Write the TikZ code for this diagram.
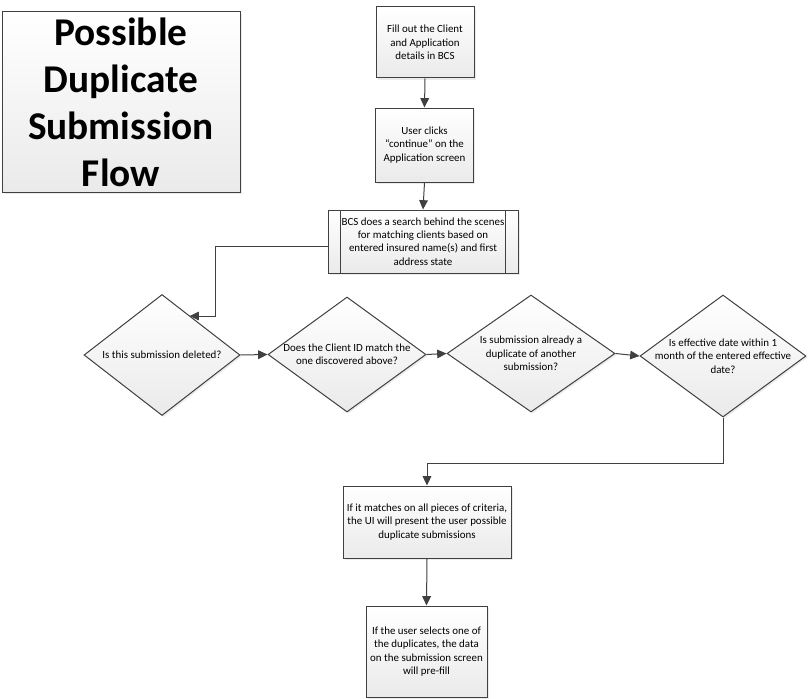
\documentclass[tikz,border=0pt]{standalone}
\usepackage{fontspec}
\setmainfont{Carlito}
\usepackage{tikz}
\usetikzlibrary{shapes.geometric,arrows.meta,shadows}
\definecolor{linegray}{RGB}{64,64,64}
\definecolor{fillgray}{RGB}{234,234,234}
\definecolor{shadegray}{RGB}{215,215,215}

\begin{document}
\begin{tikzpicture}[x=0.75pt, y=-0.75pt,
    stepbox/.style={draw=linegray, line width=0.75pt, top color=white, bottom color=fillgray,
        drop shadow={shadow xshift=1.2pt, shadow yshift=-1.2pt, fill=shadegray, opacity=0.5},
        align=center, inner sep=2pt, font=\fontsize{8.2}{10}\selectfont},
    decision/.style={diamond, draw=linegray, line width=0.75pt, top color=white, bottom color=fillgray,
        drop shadow={shadow xshift=1.2pt, shadow yshift=-1.2pt, fill=shadegray, opacity=0.5},
        inner sep=0pt},
    qtext/.style={align=center, font=\fontsize{8.2}{10}\selectfont},
    flow/.style={draw=linegray, line width=0.75pt, -{Triangle[length=7pt, width=6.5pt]}}]
    \useasboundingbox (0,0) rectangle (810,699);

    % Titre
    \node[stepbox, minimum width=178.5pt, minimum height=135pt,
        font=\fontsize{29.5}{35.2}\selectfont\bfseries] (title) at (121,102)
        {Possible\\Duplicate\\Submission\\Flow};

    % Saisie et recherche
    \node[stepbox, minimum width=73.5pt, minimum height=53.25pt] (fill) at (425,42.5)
        {Fill out the Client\\and Application\\details in BCS};
    \node[stepbox, minimum width=73.5pt, minimum height=55.5pt] (click) at (424.5,145)
        {User clicks\\``continue'' on the\\Application screen};
    \node[stepbox, minimum width=142.5pt, minimum height=47.25pt] (search) at (423,241.5)
        {BCS does a search behind the scenes\\for matching clients based on\\entered insured name(s) and first\\address state};
    \draw[linegray, line width=0.75pt] ([xshift=9.75pt]search.north west) -- ([xshift=9.75pt]search.south west);
    \draw[linegray, line width=0.75pt] ([xshift=-9.75pt]search.north east) -- ([xshift=-9.75pt]search.south east);

    % Questions
    \node[decision, minimum width=117pt, minimum height=90.75pt] (deleted) at (162,355) {};
    \node[qtext] at (deleted) {Is this submission deleted?};
    \node[decision, minimum width=118.5pt, minimum height=86.25pt] (clientid) at (347,354.5) {};
    \node[qtext] at (clientid) {Does the Client ID match the\\one discovered above?};
    \node[decision, minimum width=126pt, minimum height=87.75pt] (dupl) at (531,353.5) {};
    \node[qtext] at (dupl) {Is submission already a\\duplicate of another\\submission?};
    \node[decision, minimum width=124.5pt, minimum height=91.5pt] (effdate) at (723,356) {};
    \node[qtext] at (effdate) {Is effective date within 1\\month of the entered effective\\date?};

    % Resultat
    \node[stepbox, minimum width=126pt, minimum height=54pt] (present) at (427,522)
        {If it matches on all pieces of criteria,\\the UI will present the user possible\\duplicate submissions};
    \node[stepbox, minimum width=90.75pt, minimum height=68.25pt] (prefill) at (426.5,651.5)
        {If the user selects one of\\the duplicates, the data\\on the submission screen\\will pre-fill};

    % Fleches
    \coordinate (bend1) at (215,316);
    \coordinate (bend2) at (427,463);
    \draw[flow] (fill.south) -- (click.north);
    \draw[flow] (click.south) -- (search.north);
    \draw[flow] ([yshift=-3.75pt]search.west) -| (bend1) -- (bend1 -| deleted.55);
    \draw[flow] (deleted.east) -- (clientid.west);
    \draw[flow] (clientid.east) -- (dupl.west);
    \draw[flow] (dupl.east) -- (effdate.west);
    \draw[flow] (effdate.south) |- (bend2) -- (present.north);
    \draw[flow] (present.south) -- (prefill.north);
\end{tikzpicture}
\end{document}
